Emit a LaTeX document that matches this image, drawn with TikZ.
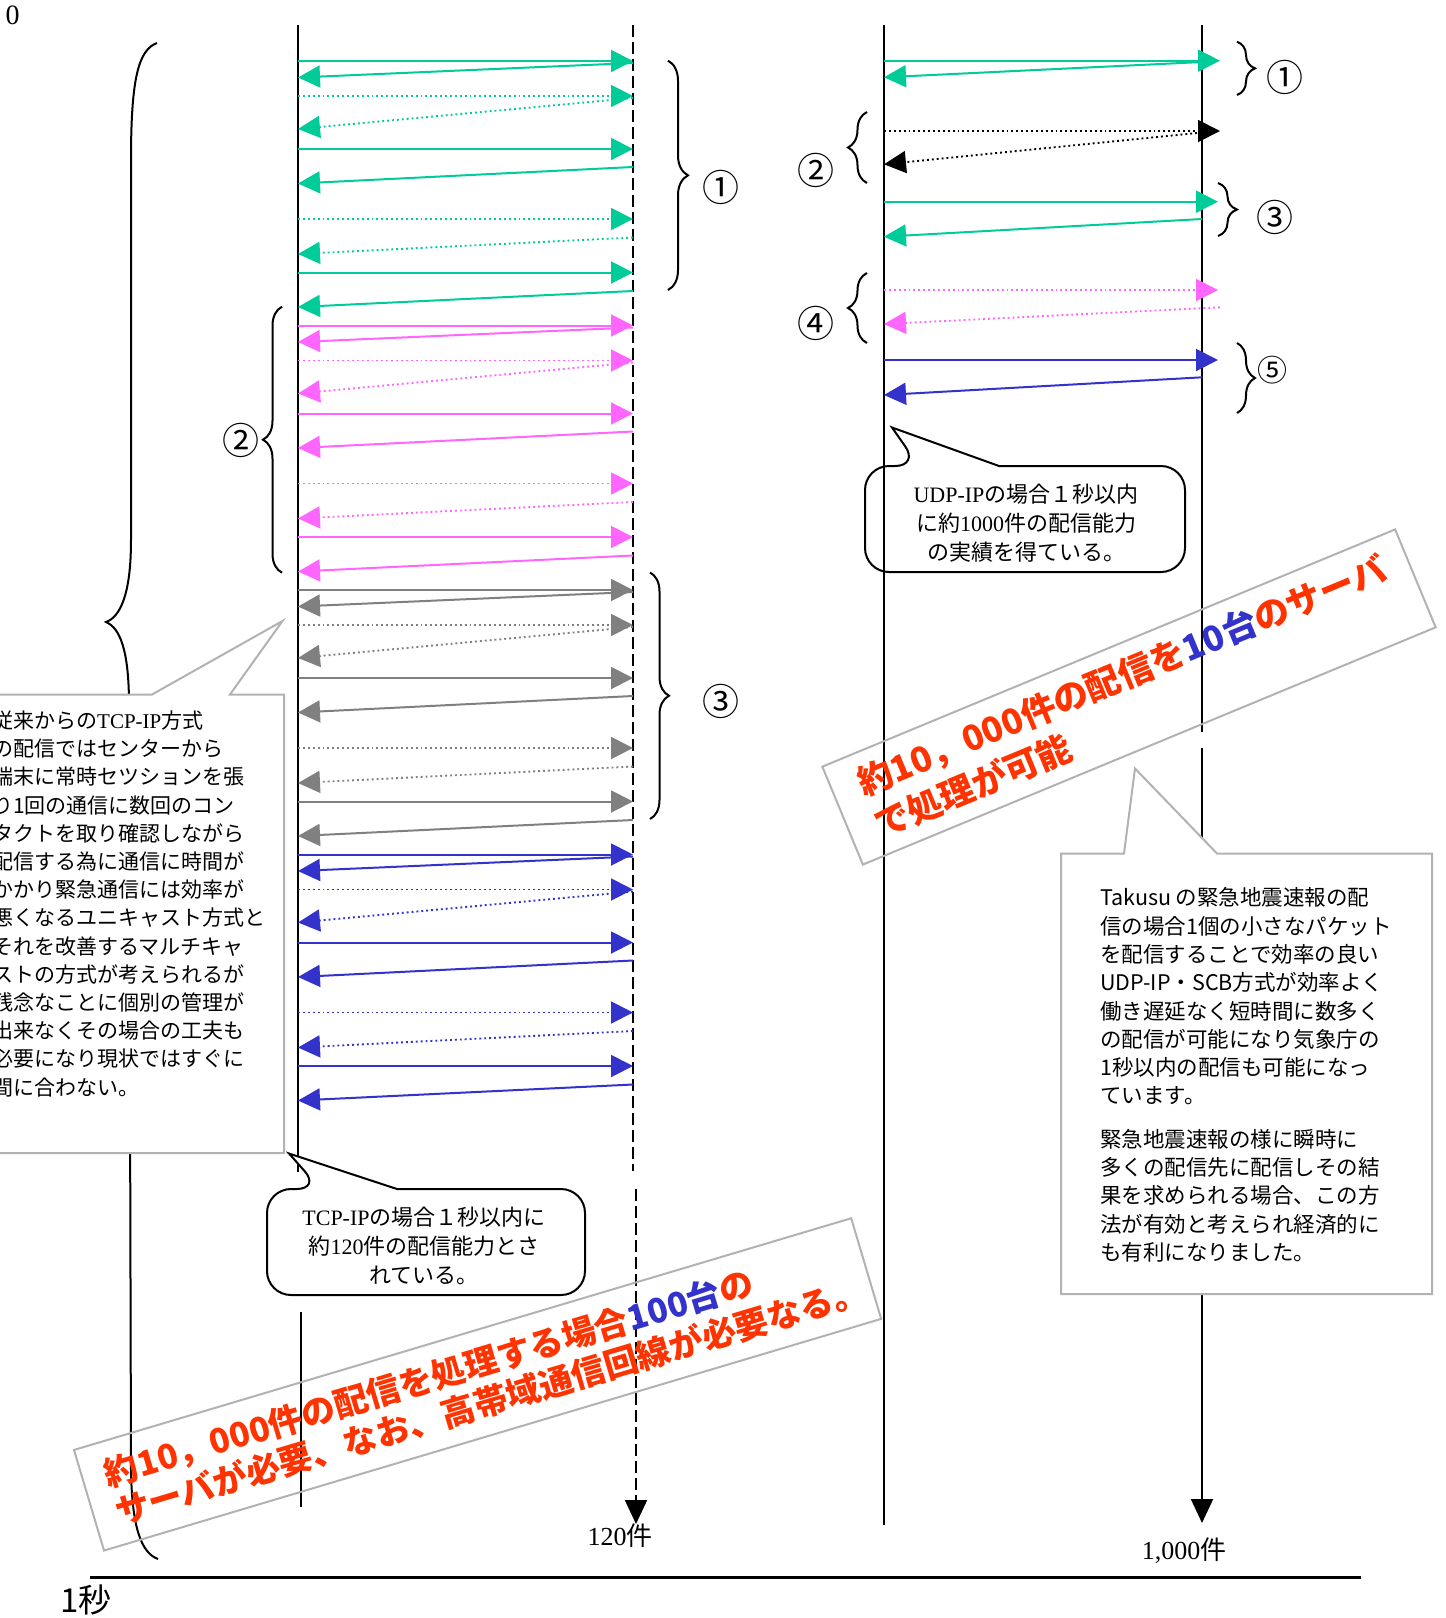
\documentclass[tikz,border=0pt]{standalone}
\usepackage{fontspec}
\setmainfont{Liberation Serif}
\newfontfamily\jp{Noto Sans CJK JP}
\usetikzlibrary{arrows.meta,decorations.pathreplacing}
\definecolor{cgreen}{RGB}{0,204,153}
\definecolor{cpink}{RGB}{255,102,255}
\definecolor{cgray}{RGB}{128,128,128}
\definecolor{cblue}{RGB}{51,51,204}
\definecolor{cred}{RGB}{255,51,0}
\definecolor{cframe}{RGB}{178,178,178}
\newcommand\arr[6]{\coordinate (#2s) at (#3,#4);\coordinate (#2e) at (#5,#6);\draw[#1] (#2s) -- (#2e);}
\tikzset{
  msg/.style={line width=2pt,-{Triangle[length=22pt,width=22pt]}},
  dotln/.style={line width=1.9pt,dash pattern=on 1.9pt off 3pt},
  life/.style={line width=2pt,black},
  lifedash/.style={line width=2pt,black,dash pattern=on 12pt off 5pt},
  downtip/.style={-{Triangle[length=24pt,width=22pt]}},
  brc/.style={line width=2pt,decorate,decoration={brace,amplitude=#1}},
  brc/.default=18pt,
  grayframe/.style={draw=cframe,line width=2pt,fill=white},
  bubble/.style={draw=black,line width=2pt},
  circnum/.style={font=\jp\fontsize{37}{37}\selectfont,inner sep=0pt},
  bodytxt/.style={inner sep=0pt,align=left,font=\jp\fontsize{21}{28.2}\selectfont},
  bubtxt/.style={inner sep=0pt,align=center,font=\fontsize{22}{28.8}\selectfont},
  bantxt/.style={draw=cframe,line width=2pt,inner sep=0pt,align=left},
  lbl/.style={inner sep=0pt,font=\fontsize{26}{26}\selectfont}
}
\begin{document}
\begin{tikzpicture}[x=1pt,y=-1pt]
\useasboundingbox (0,0) rectangle (1446,1618);
\clip (0,0) rectangle (1446,1618);

% big brace on the left
\draw[line width=2pt] (157,43) .. controls (138,50) and (131,80) .. (131,160) -- (131,540)
  .. controls (131,595) and (120,617) .. (106,622)
  .. controls (120,628) and (129,650) .. (129,705) -- (131,1470)
  .. controls (132,1530) and (142,1553) .. (158,1559);

% lifelines, left pair
\coordinate (A1) at (298,25);  \coordinate (A2) at (298,1172);
\coordinate (A3) at (301,1312); \coordinate (A4) at (301,1507);
\draw[life] (A1) -- (A2);
\draw[life] (A3) -- (A4);
\coordinate (B1) at (633,25);  \coordinate (B2) at (633,1171);
\coordinate (B3) at (636,1189); \coordinate (B4) at (636,1524);
\draw[lifedash] (B1) -- (B2);
\draw[lifedash,downtip] (B3) -- (B4);
% lifelines, right pair
\coordinate (C1) at (884,25); \coordinate (C2) at (884,1525);
\draw[life] (C1) -- (C2);
\coordinate (D1) at (1202,25); \coordinate (D2) at (1202,732);
\coordinate (D3) at (1202,748); \coordinate (D4) at (1202,1523);
\draw[life] (D1) -- (D2);
\draw[life,downtip] (D3) -- (D4);

% left column messages
\foreach \c [count=\i from 0] in {cgreen,cpink,cgray,cblue}{
  \pgfmathsetmacro\Y{61+264.5*\i}
  \arr{msg,\c}{L\i-a}{298}{\Y}{633}{\Y}
  \arr{msg,\c}{L\i-b}{633}{\Y+2}{298}{\Y+16.5}
  \arr{msg,dotln,\c}{L\i-c}{298}{\Y+35}{633}{\Y+35}
  \arr{msg,dotln,\c}{L\i-d}{633}{\Y+37}{298}{\Y+68}
  \arr{msg,\c}{L\i-e}{298}{\Y+88}{633}{\Y+88}
  \arr{msg,\c}{L\i-f}{633}{\Y+106}{298}{\Y+122.5}
  \arr{msg,dotln,\c}{L\i-g}{298}{\Y+158}{633}{\Y+158}
  \arr{msg,dotln,\c}{L\i-h}{633}{\Y+176.5}{298}{\Y+193}
  \arr{msg,\c}{L\i-i}{298}{\Y+211.5}{633}{\Y+211.5}
  \arr{msg,\c}{L\i-j}{633}{\Y+230}{298}{\Y+246}
}

% right column messages
\arr{msg,cgreen}{R1a}{884}{60.7}{1220}{60.7}
\arr{msg,cgreen}{R1b}{1202}{62}{884}{77.3}
\arr{msg,dotln,black}{R2a}{884}{131}{1220}{131}
\arr{msg,dotln,black}{R2b}{1197}{133}{884}{164.3}
\arr{msg,cgreen}{R3a}{884}{201.7}{1218}{201.7}
\arr{msg,cgreen}{R3b}{1202}{219}{884}{236.7}
\arr{msg,dotln,cpink}{R4a}{884}{290}{1218}{290}
\arr{msg,dotln,cpink}{R4b}{1220}{307.3}{884}{324}
\arr{msg,cblue}{R5a}{884}{360}{1218}{360}
\arr{msg,cblue}{R5b}{1202}{377.3}{884}{395}

% braces, left column
\draw[brc=20pt] (668,60.7) -- (668,290);
\node[circnum] (nL1) at (721,187) {①};
\draw[brc=19pt] (282,572.7) -- (282,306.7);
\node[circnum] (nL2) at (241,440) {②};
\draw[brc=19pt] (650,572.5) -- (650,819);
\node[circnum] (nL3) at (721,701) {③};
% braces, right column
\draw[brc] (1237,41.7) -- (1237,95);
\node[circnum] (nR1) at (1285,77) {①};
\draw[brc=19pt] (867,183) -- (867,112);
\node[circnum] (nR2) at (816,170) {②};
\draw[brc=19pt] (1218,183) -- (1218,236);
\node[circnum] (nR3) at (1275,217) {③};
\draw[brc=19pt] (867,343) -- (867,273);
\node[circnum] (nR4) at (816,323) {④};
\draw[brc] (1237,343) -- (1237,413);
\node[circnum,font=\jp\fontsize{30}{30}\selectfont] (nR5) at (1272,370) {⑤};

% left gray callout
\draw[grayframe] (-10,694.5) -- (152,694.5) -- (282.5,621) -- (230,694.5) -- (284,694.5)
  -- (284,1153) -- (-10,1153) -- cycle;
\node[bodytxt,anchor=north west] (tleft) at (-8,710.5) {従来からの{\rmfamily TCP-IP}方式\\
の配信ではセンターから\\端末に常時セツションを張\\り1回の通信に数回のコン\\
タクトを取り確認しながら\\配信する為に通信に時間が\\かかり緊急通信には効率が\\
悪くなるユニキャスト方式と\\それを改善するマルチキャ\\ストの方式が考えられるが\\
残念なことに個別の管理が\\出来なくその場合の工夫も\\必要になり現状ではすぐに\\
間に合わない。};

% right gray callout
\draw[grayframe] (1061,853.5) -- (1124,853.5) -- (1135,768.5) -- (1217,853.5) -- (1432,853.5)
  -- (1432,1294) -- (1061,1294) -- cycle;
\node[bodytxt,anchor=north west,font=\jp\fontsize{21.5}{28.3}\selectfont] (tright) at (1100,887.5)
 {Takusu の緊急地震速報の配\\信の場合1個の小さなパケット\\を配信することで効率の良い\\
 UDP-IP・SCB方式が効率よく\\働き遅延なく短時間に数多く\\の配信が可能になり気象庁の\\
 1秒以内の配信も可能になっ\\ています。\\[15pt]
 緊急地震速報の様に瞬時に\\多くの配信先に配信しその結\\果を求められる場合、この方\\
 法が有効と考えられ経済的に\\も有利になりました。};

% UDP bubble
\draw[bubble] (999,466) [rounded corners=24pt] -- (1185,466) -- (1185,572) -- (865,572)
  -- (865,466) -- (919,466) [sharp corners] -- (892,427.5) -- cycle;
\node[bubtxt] (tudp) at (1026,523) {UDP-IP{\jp の場合１秒以内}\\{\jp に約}1000{\jp 件の配信能力}\\{\jp の実績を得ている。}};

% TCP bubble
\draw[bubble,fill=white] (397,1189) [rounded corners=24pt] -- (585,1189) -- (585,1295) -- (267,1295)
  -- (267,1189) -- (320.5,1189) [sharp corners] -- (289,1153.5) -- cycle;
\node[bubtxt] (ttcp) at (424,1246) {TCP-IP{\jp の場合１秒以内に}\\{\jp 約}120{\jp 件の配信能力とさ}\\{\jp れている。}};

% banners
\node[bantxt,rotate=22.5,minimum width=620pt,minimum height=106pt,text width=566pt,
  font=\jp\bfseries\fontsize{35}{45}\selectfont] (ban1) at (1129,697)
  {\color{cred}約10，000件の配信を\color{cblue}10台\color{cred}のサーバ\\で処理が可能};
\node[bantxt,rotate=16.6,minimum width=811pt,minimum height=105pt,text width=766pt,
  font=\jp\bfseries\fontsize{34}{40}\selectfont] (ban2) at (477.6,1384.4)
  {\color{cred}約10，000件の配信を処理する場合\color{cblue}100台\color{cred}の\\サーバが必要、なお、高帯域通信回線が必要なる。};

% axis labels
\node[lbl,font=\fontsize{28}{28}\selectfont] (zero) at (12.5,15) {0};
\node[lbl] (n120) at (620,1536) {120{\jp 件}};
\node[lbl] (n1000) at (1184,1551) {1,000{\jp 件}};
\coordinate (T1) at (89.5,1577); \coordinate (T2) at (1361,1577);
\draw[line width=3pt] (T1) -- (T2);
\node[lbl,font=\jp\fontsize{33}{33}\selectfont] (sec) at (86,1600) {1秒};
\end{tikzpicture}
\end{document}
